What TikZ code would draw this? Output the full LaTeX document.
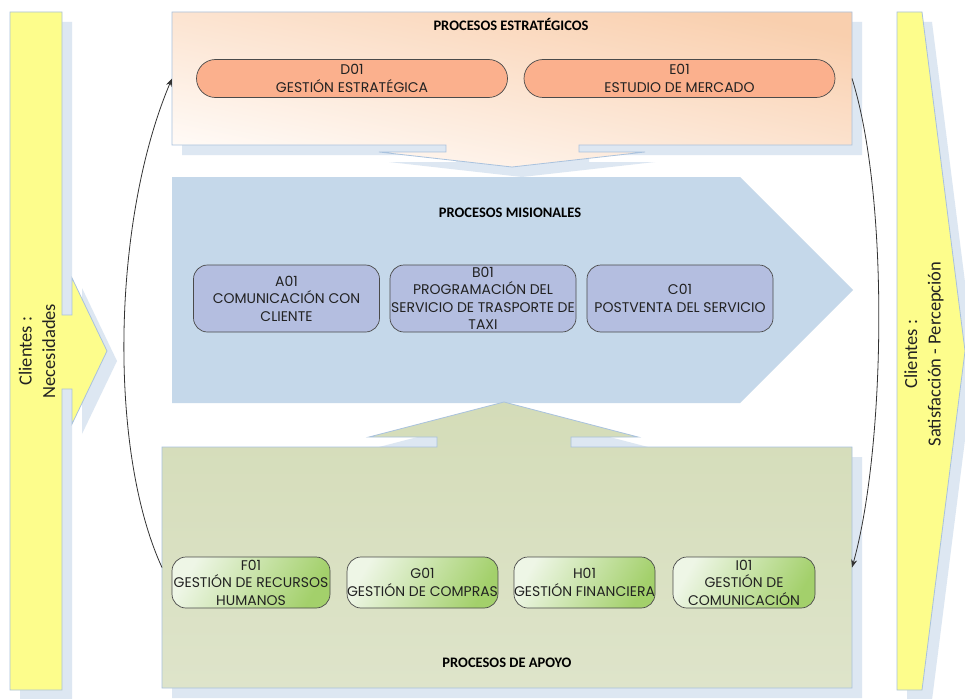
\documentclass[tikz,border=0pt]{standalone}
\usepackage{fontspec}
\setmainfont{Carlito}
\newfontfamily\nodefont{Poppins}
\usetikzlibrary{arrows.meta,calc}
\definecolor{edgeblue}{HTML}{A9C2DE}
\definecolor{shadowblue}{HTML}{DDE7F2}
\definecolor{yellowbar}{HTML}{FDFD8C}
\definecolor{peach}{HTML}{F9CFAE}
\definecolor{peachmid}{HTML}{FBDDC7}
\definecolor{peachlow}{HTML}{FFFAF6}
\definecolor{salmon}{HTML}{FBB08D}
\definecolor{misblue}{HTML}{C5D8EA}
\definecolor{lavender}{HTML}{B4BEE0}
\definecolor{olivetop}{HTML}{D4DCB8}
\definecolor{olivebot}{HTML}{DEE4CA}
\definecolor{greenlight}{HTML}{EEF6E6}
\definecolor{greenmid}{HTML}{C6E4A6}
\definecolor{greendark}{HTML}{A3D06B}
\definecolor{nodeedge}{HTML}{4A4A4A}
\definecolor{txt}{HTML}{222222}
\definecolor{arrowgray}{HTML}{333333}
\begin{document}
\begin{tikzpicture}[x=1pt,y=-1pt,
  bigline/.style={draw=edgeblue, line width=0.8pt},
  shadowfill/.style={fill=shadowblue},
  procbox/.style={draw=nodeedge, line width=0.7pt, align=center, inner sep=0pt, outer sep=0pt,
    font=\nodefont\fontsize{14}{17.5}\selectfont, text=txt},
  estbox/.style={procbox, fill=salmon, rounded corners=19pt, minimum width=311pt, minimum height=38pt},
  misbox/.style={procbox, fill=lavender, rounded corners=14pt, minimum width=186pt, minimum height=67pt},
  apobox/.style={procbox, left color=greenlight, middle color=greenmid, right color=greendark, shading angle=60,
    rounded corners=14pt, minimum height=51pt},
  titletext/.style={font=\bfseries\fontsize{14.5}{17}\selectfont, text=black},
  client/.style={font=\fontsize{18.5}{23.5}\selectfont, align=center, rotate=90, text=txt},
  flow/.style={draw=arrowgray, line width=0.8pt, -{Stealth[length=8pt,width=6pt]}},
  frame/.style={inner sep=0pt, outer sep=0pt}
]
\useasboundingbox (0,0) rectangle (965,698);
\fill[white] (0,0) rectangle (965,698);

% ---- left client bar (shadow + shape)
\begin{scope}[shift={(10,10)}]
\fill[shadowfill] (10,12) -- (62,12) -- (62,315) -- (72,315) -- (72,278) -- (107,351) -- (72,424) -- (72,389) -- (62,389) -- (62,690) -- (10,690) -- cycle;
\end{scope}
\filldraw[bigline, fill=yellowbar] (10,12) -- (62,12) -- (62,315) -- (72,315) -- (72,278) -- (107,351) -- (72,424) -- (72,389) -- (62,389) -- (62,690) -- (10,690) -- cycle;

% ---- right client bar
\begin{scope}[shift={(10,10)}]
\fill[shadowfill] (897,12) -- (922,12) -- (965,351) -- (922,690) -- (897,690) -- cycle;
\end{scope}
\filldraw[bigline, fill=yellowbar] (897,12) -- (922,12) -- (965,351) -- (922,690) -- (897,690) -- cycle;

% ---- strategic processes box with arrow
\begin{scope}[shift={(10,10)}]
\fill[shadowfill] (172,12) -- (852,12) -- (852,145) -- (579,145) -- (579,152) -- (645,152) -- (512,167) -- (379,152) -- (446,152) -- (446,145) -- (172,145) -- cycle;
\end{scope}
\shadedraw[bigline, top color=peach, middle color=peachmid, bottom color=peachlow, shading angle=-12]
  (172,12) -- (852,12) -- (852,145) -- (579,145) -- (579,152) -- (645,152) -- (512,167) -- (379,152) -- (446,152) -- (446,145) -- (172,145) -- cycle;

% ---- mission processes pentagon
\fill[misblue] (172,177) -- (740,177) -- (853,290) -- (740,403) -- (172,403) -- cycle;

% ---- support processes box with arrow
\begin{scope}[shift={(10,10)}]
\fill[shadowfill] (162,447) -- (437,447) -- (437,437) -- (369,437) -- (504,402) -- (638,437) -- (571,437) -- (571,447) -- (852,447) -- (852,688) -- (162,688) -- cycle;
\end{scope}
\shadedraw[bigline, top color=olivetop, bottom color=olivebot]
  (162,447) -- (437,447) -- (437,437) -- (369,437) -- (504,402) -- (638,437) -- (571,437) -- (571,447) -- (852,447) -- (852,688) -- (162,688) -- cycle;

% ---- frames for connectors
\node[frame, minimum width=680pt, minimum height=133pt] (est) at (512,78.5) {};
\node[frame, minimum width=690pt, minimum height=241pt] (apo) at (507,567.5) {};

% ---- titles
\node[titletext] (t1) at (511,24) {PROCESOS ESTRATÉGICOS};
\node[titletext] (t2) at (510,213) {PROCESOS MISIONALES};
\node[titletext] (t3) at (507,663) {PROCESOS DE APOYO};

% ---- client texts
\node[client] (cn) at (37,351) {Clientes :\\Necesidades};
\node[client] (cs) at (924,354) {Clientes :\\Satisfacción - Percepción};

% ---- strategic nodes
\node[estbox] (D01) at (352,78.5) {D01\\GESTIÓN ESTRATÉGICA};
\node[estbox] (E01) at (679.5,78.5) {E01\\ESTUDIO DE MERCADO};

% ---- mission nodes
\node[misbox] (A01) at (286.5,298.5) {A01\\COMUNICACIÓN CON\\CLIENTE};
\node[misbox] (B01) at (483,298.5) {B01\\PROGRAMACIÓN DEL\\SERVICIO DE TRASPORTE DE\\TAXI};
\node[misbox] (C01) at (680,298.5) {C01\\POSTVENTA DEL SERVICIO};

% ---- support nodes
\node[apobox, minimum width=158pt] (F01) at (251,582.5) {F01\\GESTIÓN DE RECURSOS\\HUMANOS};
\node[apobox, minimum width=149pt] (G01) at (422.5,582.5) {G01\\GESTIÓN DE COMPRAS};
\node[apobox, minimum width=141pt] (H01) at (584.5,582.5) {H01\\GESTIÓN FINANCIERA};
\node[apobox, minimum width=142pt] (I01) at (744,582.5) {I01\\GESTIÓN DE\\COMUNICACIÓN};

% ---- feedback curves
\draw[flow] (apo.west) .. controls (108,450) and (112,220) .. (est.west);
\draw[flow] (est.east) .. controls (890,200) and (885,450) .. (apo.east);
\end{tikzpicture}
\end{document}
